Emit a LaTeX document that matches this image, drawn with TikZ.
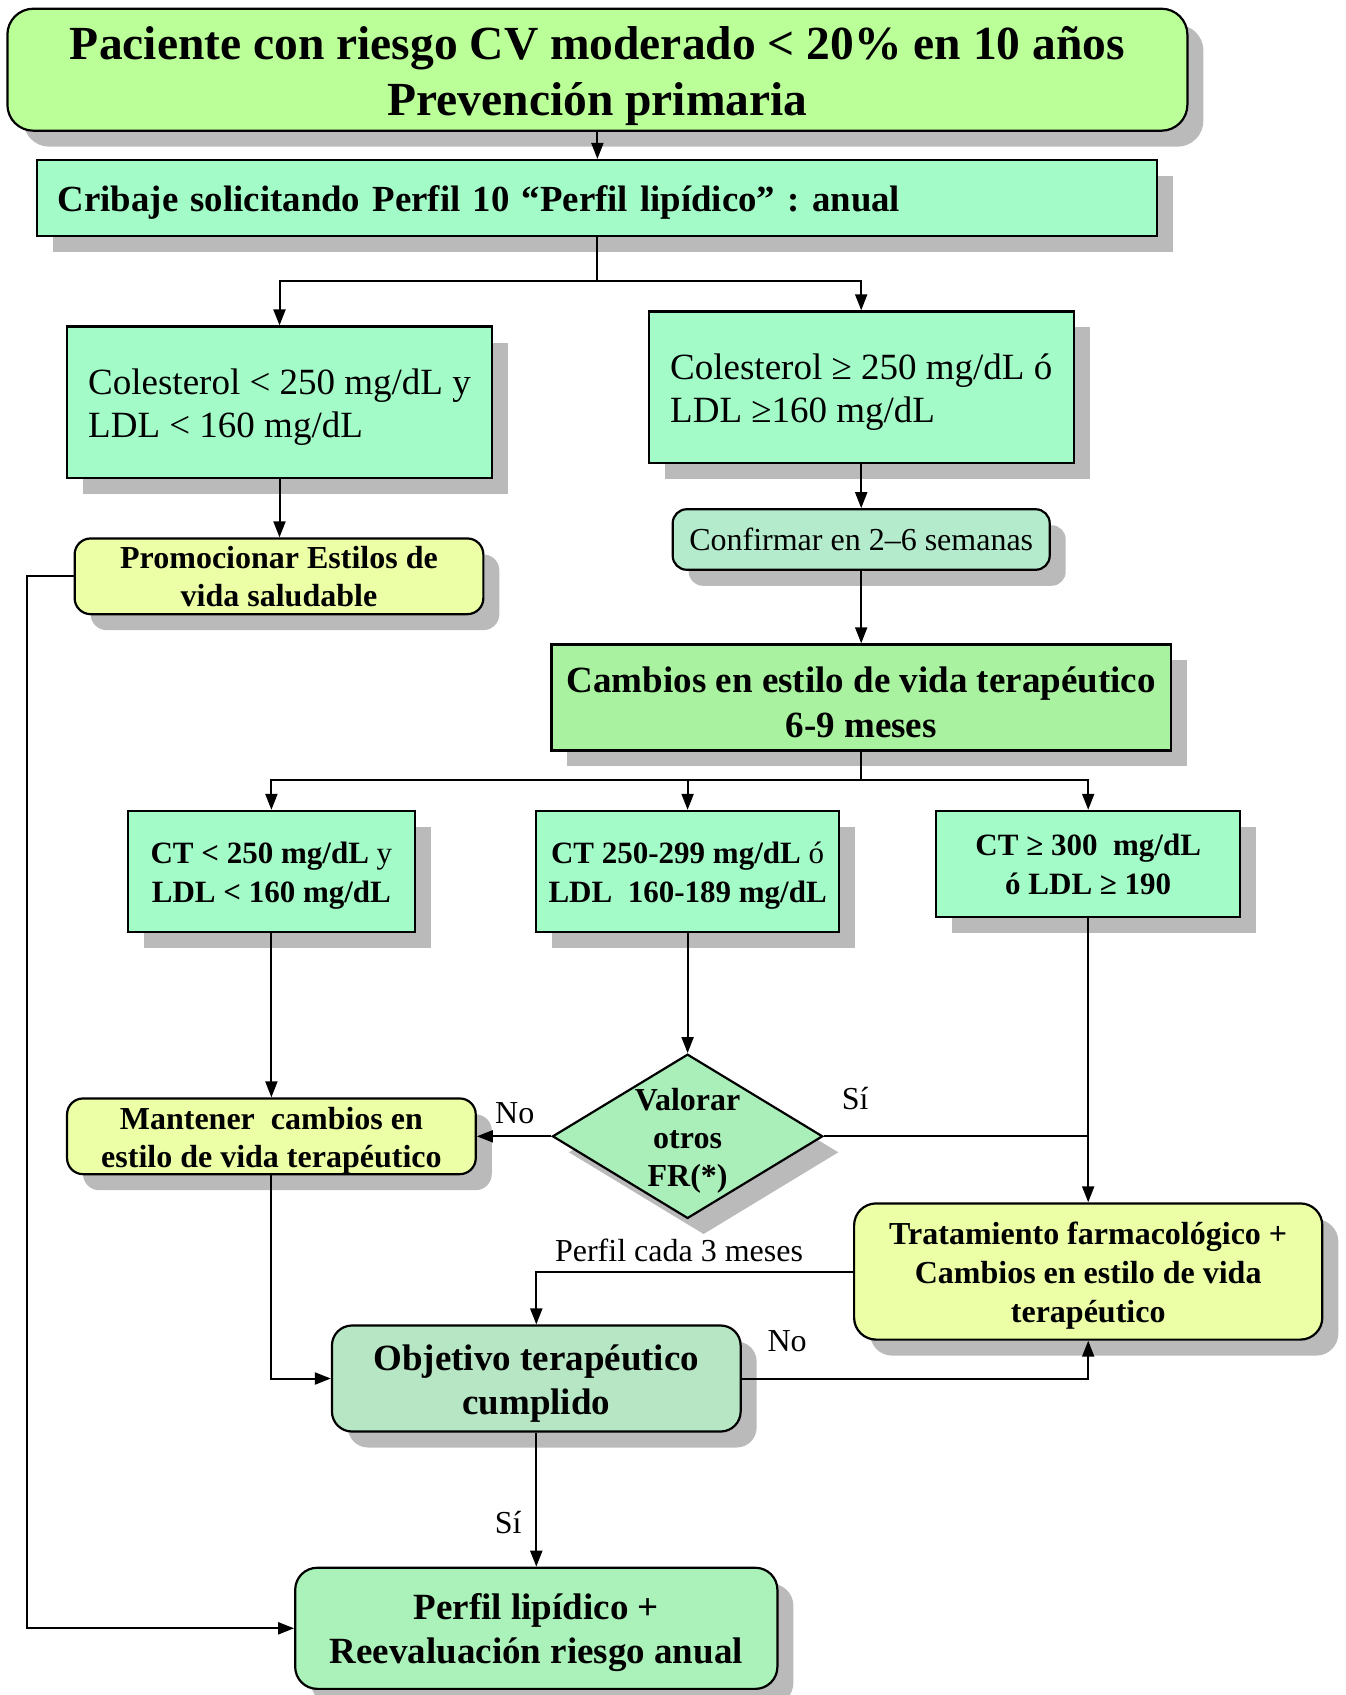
\documentclass[tikz,border=0pt]{standalone}
\usepackage{fontspec}
\setmainfont{Liberation Serif}
\usetikzlibrary{arrows.meta,shapes.geometric,shadows}
\frenchspacing

\newcommand{\tam}[2]{\fontsize{#1}{#2}\selectfont}
\newcommand{\alto}{\rule{0pt}{0.95em}}

\definecolor{verdetitulo}{RGB}{187,255,153}
\definecolor{menta}{RGB}{163,251,200}
\definecolor{verdeconf}{RGB}{180,235,205}
\definecolor{verdecamb}{RGB}{168,242,160}
\definecolor{amarillo}{RGB}{236,255,166}
\definecolor{verderombo}{RGB}{170,238,185}
\definecolor{verdeobj}{RGB}{183,230,197}
\definecolor{verdeperfil}{RGB}{170,242,185}

\tikzset{
  texto/.style={inner sep=0pt, align=center},
  caja/.style={texto, draw, line width=2.2pt,
    drop shadow={shadow xshift=16pt, shadow yshift=-16pt, fill=black!27, opacity=1}},
  redonda/.style={caja, rounded corners=16pt},
  rombo/.style={draw, line width=2.2pt, diamond, inner sep=0pt,
    drop shadow={shadow xshift=16pt, shadow yshift=-16pt, fill=black!27, opacity=1}},
  flecha/.style={line width=2pt, -{Triangle[length=16pt,width=12pt]}},
  linea/.style={line width=2pt},
  etiq/.style={font=\tam{32}{38}, inner sep=0pt}
}

\begin{document}
\begin{tikzpicture}[x=1pt,y=-1pt]
  \useasboundingbox (0,0) rectangle (1345,1695);

  % cabecera
  \node[redonda, rounded corners=26pt, fill=verdetitulo, minimum width=1180pt, minimum height=122pt,
        font=\tam{47.5}{56}\bfseries] (paciente) at (597.4,69.7)
        {\alto Paciente con riesgo CV moderado < 20\% en 10 años\\Prevención primaria};
  \node[caja, fill=menta, minimum width=1120pt, minimum height=75.7pt, text width=1078pt,
        inner xsep=21pt, align=left, font=\tam{36.8}{44}\bfseries] (cribaje) at (596.8,197.9)
        {\alto Cribaje solicitando Perfil 10 “Perfil lipídico” : anual};

  % colesterol
  \node[caja, fill=menta, minimum width=425pt, minimum height=151.4pt, align=left,
        font=\tam{37}{43}] (colbajo) at (279.5,402.2)
        {\alto Colesterol < 250 mg/dL y\\LDL < 160 mg/dL};
  \node[caja, fill=menta, minimum width=425pt, minimum height=151.4pt, align=left,
        font=\tam{37}{43}] (colalto) at (861.2,387.1)
        {\alto Colesterol ≥ 250 mg/dL ó\\LDL ≥160 mg/dL};
  \node[redonda, rounded corners=14pt, fill=verdeconf, minimum width=377pt, minimum height=60.5pt,
        font=\tam{32}{38}] (confirmar) at (861.2,539.5) {Confirmar en 2–6 semanas};
  \node[redonda, fill=amarillo, minimum width=408.7pt, minimum height=75.7pt,
        font=\tam{32}{38}\bfseries] (promocionar) at (279,576.3)
        {Promocionar Estilos de\\vida saludable};
  \node[caja, fill=verdecamb, minimum width=619.5pt, minimum height=106pt,
        font=\tam{37}{45}\bfseries] (cambios) at (861.2,697.4)
        {\alto Cambios en estilo de vida terapéutico\\6-9 meses};

  % CT
  \node[caja, fill=menta, minimum width=287.6pt, minimum height=121.1pt,
        font=\tam{31}{39}\bfseries] (ct1) at (271.4,871.5)
        {\alto CT < 250 mg/dL {\mdseries y}\\LDL < 160 mg/dL};
  \node[caja, fill=menta, minimum width=302.7pt, minimum height=121.1pt,
        font=\tam{31}{39}\bfseries] (ct2) at (687.6,871.5)
        {\alto CT 250-299 mg/dL {\mdseries ó}\\LDL\ \ 160-189 mg/dL};
  \node[caja, fill=menta, minimum width=303.8pt, minimum height=106pt,
        font=\tam{31}{39}\bfseries] (ct3) at (1088.2,863.9)
        {CT ≥ 300\ \ mg/dL\\ó LDL ≥ 190};

  % decision y tratamiento
  \node[redonda, fill=amarillo, minimum width=408.7pt, minimum height=75.7pt,
        font=\tam{32}{38}\bfseries] (mantener) at (271.4,1136.3)
        {\alto Mantener\ \ cambios en\\estilo de vida terapéutico};
  \node[rombo, fill=verderombo, minimum width=270.3pt, minimum height=164.3pt] (valorar) at (687.6,1136.3) {};
  \node[texto, font=\tam{32}{38}\bfseries] (valorartxt) at (valorar)
        {\alto Valorar\\otros\\FR(*)};
  \node[redonda, rounded corners=22pt, fill=amarillo, minimum width=468.2pt, minimum height=136.2pt,
        font=\tam{32}{39}\bfseries] (tratamiento) at (1088.2,1271.5)
        {\alto Tratamiento farmacológico +\\Cambios en estilo de vida\\terapéutico};
  \node[redonda, rounded corners=20pt, fill=verdeobj, minimum width=408.7pt, minimum height=106pt,
        font=\tam{37}{44}\bfseries] (objetivo) at (536.3,1378.5)
        {\alto Objetivo terapéutico\\cumplido};
  \node[redonda, rounded corners=22pt, fill=verdeperfil, minimum width=482.2pt, minimum height=121.1pt,
        font=\tam{37}{44}\bfseries] (perfil) at (536.3,1628.3)
        {\alto Perfil lipídico +\\Reevaluación riesgo anual};

  % conectores
  \coordinate (div1) at (cribaje.south |- 0,281);
  \coordinate (div2) at (cambios.south |- 0,779.5);
  \coordinate (retorno) at (27,1000);

  \draw[flecha] (paciente.south) -- (paciente.south |- cribaje.north);
  \draw[flecha] (cribaje.south) -- (div1) -| (colbajo.north);
  \draw[flecha] (div1) -| (colalto.north);
  \draw[flecha] (colbajo.south) -- (colbajo.south |- promocionar.north);
  \draw[flecha] (colalto.south) -- (confirmar.north);
  \draw[flecha] (confirmar.south) -- (cambios.north);
  \draw[flecha] (cambios.south) -- (div2) -| (ct1.north);
  \draw[flecha] (div2) -| (ct2.north);
  \draw[flecha] (div2) -| (ct3.north);
  \draw[flecha] (ct1.south) -- (mantener.north);
  \draw[flecha] (ct2.south) -- (valorar.north);
  \draw[flecha] (ct3.south) -- (tratamiento.north);
  \draw[flecha] (valorar.west) -- (mantener.east);
  \draw[linea] (valorar.east) -- (valorar.east -| tratamiento.north);
  \draw[flecha] (tratamiento.west) -| (objetivo.north);
  \draw[flecha] (mantener.south) |- (objetivo.west);
  \draw[flecha] (objetivo.east) -| (tratamiento.south);
  \draw[flecha] (objetivo.south) -- (perfil.north);
  \draw[flecha] (promocionar.west) -| (retorno) |- (perfil.west);

  % etiquetas
  \node[etiq] (no1) at (514.7,1113.6) {No};
  \node[etiq] (si1) at (855.2,1098.5) {Sí};
  \node[etiq] (cada3) at (679,1249.9) {Perfil cada 3 meses};
  \node[etiq] (no2) at (787.1,1340.7) {No};
  \node[etiq] (si2) at (508.2,1522.3) {Sí};
\end{tikzpicture}
\end{document}
